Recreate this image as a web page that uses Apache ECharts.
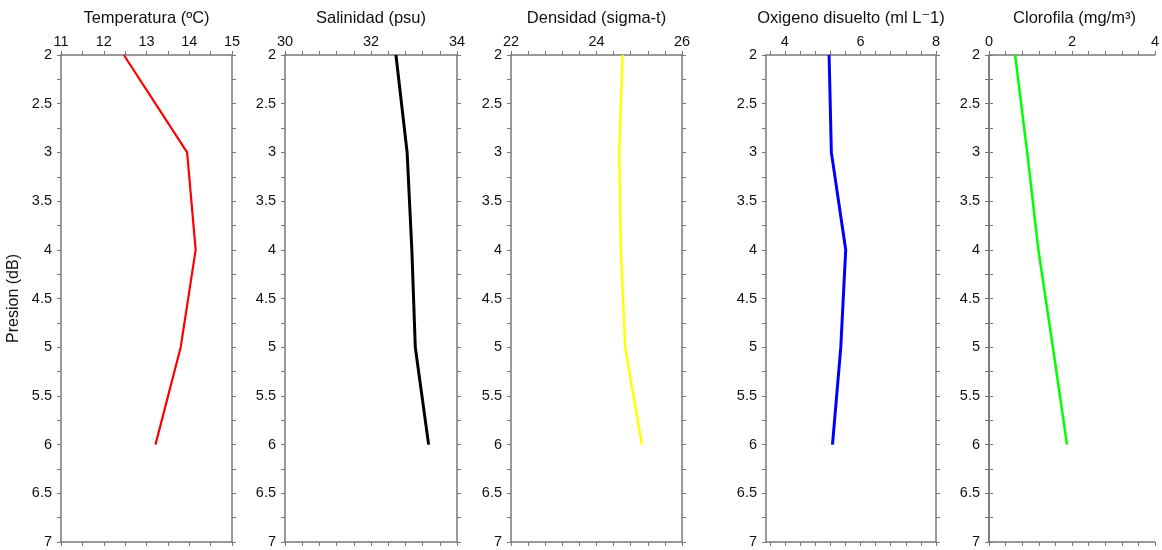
<!DOCTYPE html>
<html>
<head>
<meta charset="utf-8">
<script src="https://cdn.jsdelivr.net/npm/echarts@6/dist/echarts.min.js"></script>
<style>
  html, body { margin: 0; padding: 0; background: #fff; }
  #chart { width: 1162px; height: 550px; }
</style>
</head>
<body>
<div id="chart"></div>
<script>
// Depth profile of one CTD cast: five variables against pressure
const presion = [2, 3, 4, 5, 6];
const temperatura = [12.47, 13.95, 14.15, 13.80, 13.21];
const salinidad = [32.58, 32.84, 32.95, 33.03, 33.34];
const densidad = [24.61, 24.53, 24.57, 24.67, 25.06];
const oxigeno = [5.17, 5.23, 5.61, 5.48, 5.26];
const clorofila = [0.63, 0.92, 1.19, 1.54, 1.88];

const titulos = ['Temperatura (ºC)', 'Salinidad (psu)', 'Densidad (sigma-t)', 'Oxigeno disuelto (ml L\u207B1)', 'Clorofila (mg/m\u00B3)'];
const ticksTemp = [11, 12, 13, 14, 15];
const ticksSal = [30, 32, 34];
const ticksDens = [22, 24, 26];
const ticksOxi = [4, 6, 8];
const ticksClor = [0, 2, 4];
const ticksPresion = [2, 2.5, 3, 3.5, 4, 4.5, 5, 5.5, 6, 6.5, 7];
const colores = ['#ff0000', '#000000', '#ffff00', '#0000ff', '#00ff00'];

const FONT = '"Liberation Sans", Arial, "DejaVu Sans", sans-serif';
const AXIS_COLOR = '#777777';

// panel layout: x bounds and value ranges
const panels = [
  { left: 61,  width: 171, min: 11,  max: 15, ticks: ticksTemp, step: 0.5, data: temperatura, width_line: 2.2 },
  { left: 285, width: 172, min: 30,  max: 34, ticks: ticksSal,  step: 0.4, data: salinidad,   width_line: 3 },
  { left: 511, width: 171, min: 22,  max: 26, ticks: ticksDens, step: 0.4, data: densidad,    width_line: 2.5 },
  { left: 766, width: 170, min: 3.5, max: 8,  ticks: ticksOxi,  step: 0.4, data: oxigeno,     width_line: 3 },
  { left: 989, width: 171, min: 0,   max: 4,  ticks: ticksClor, step: 0.4, data: clorofila,   width_line: 2.5 }
];
const TOP = 55, HEIGHT = 487;

function tickValues(min, max, step, anchor) {
  const out = [];
  const start = anchor - Math.floor((anchor - min) / step + 1e-9) * step;
  for (let v = start; v <= max + 1e-9; v += step) {
    if (v >= min - 1e-9) out.push(Math.round(v * 1000) / 1000);
  }
  return out;
}

const yMinor = tickValues(2, 7, 0.25, 2);

const grid = [], xAxis = [], yAxis = [], series = [], graphic = [];
panels.forEach((p, i) => {
  grid.push({ left: p.left, top: TOP, width: p.width, height: HEIGHT });
  const xt = tickValues(p.min, p.max, p.step, p.ticks[0]);
  const lineStyle = { color: AXIS_COLOR, width: 1.5 };
  const tickStyle = { color: AXIS_COLOR, width: 1 };
  xAxis.push({
    type: 'value', gridIndex: i, position: 'top', min: p.min, max: p.max,
    axisLine: { show: true, lineStyle },
    axisTick: { show: true, length: 4, inside: false, customValues: xt, lineStyle: tickStyle },
    axisLabel: { show: true, customValues: p.ticks, margin: 6, color: '#111', fontSize: 14.5, fontFamily: FONT },
    splitLine: { show: false }
  });
  xAxis.push({
    type: 'value', gridIndex: i, position: 'bottom', min: p.min, max: p.max,
    axisLine: { show: true, lineStyle },
    axisTick: { show: true, length: 4, customValues: xt, lineStyle: tickStyle },
    axisLabel: { show: false },
    splitLine: { show: false }
  });
  yAxis.push({
    type: 'value', gridIndex: i, position: 'left', inverse: true, min: 2, max: 7,
    axisLine: { show: true, lineStyle },
    axisTick: { show: true, length: 4, customValues: yMinor, lineStyle: tickStyle },
    axisLabel: { show: true, customValues: ticksPresion, margin: 9, color: '#111', fontSize: 14.5, fontFamily: FONT },
    splitLine: { show: false },
    name: i === 0 ? 'Presion (dB)' : '',
    nameLocation: 'middle', nameGap: 39, nameRotate: 90,
    nameTextStyle: { color: '#111', fontSize: 16, fontFamily: FONT }
  });
  yAxis.push({
    type: 'value', gridIndex: i, position: 'right', inverse: true, min: 2, max: 7,
    axisLine: { show: true, lineStyle },
    axisTick: { show: true, length: 4, customValues: yMinor, lineStyle: tickStyle },
    axisLabel: { show: false },
    splitLine: { show: false }
  });
  series.push({
    type: 'line', xAxisIndex: 2 * i, yAxisIndex: 2 * i,
    data: p.data.map((v, k) => [v, presion[k]]),
    showSymbol: false, symbol: 'none', animation: false,
    lineStyle: { color: colores[i], width: p.width_line },
    z: 3
  });
  graphic.push({
    type: 'text', x: p.left + p.width / 2, y: 18,
    style: { text: titulos[i], align: 'center', verticalAlign: 'middle', fill: '#111', font: '16.5px ' + FONT }
  });
});

const chart = echarts.init(document.getElementById('chart'), null, { renderer: 'canvas' });
chart.setOption({
  animation: false,
  backgroundColor: '#fff',
  grid, xAxis, yAxis, series, graphic
});
</script>
</body>
</html>
